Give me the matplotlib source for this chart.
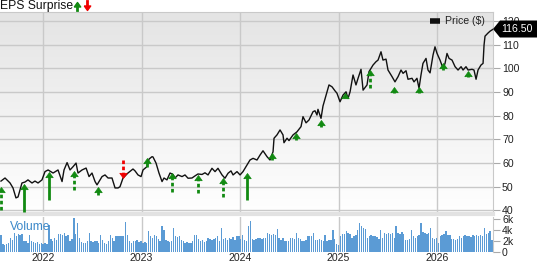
import numpy as np
import matplotlib
matplotlib.use("Agg")
import matplotlib.pyplot as plt
from matplotlib.patches import Polygon
from matplotlib.lines import Line2D

plt.rcParams['font.family'] = ['Liberation Sans', 'DejaVu Sans']

# price series (decimal year, $)
t = [2021.573, 2021.614, 2021.665, 2021.695, 2021.725, 2021.746, 2021.786, 2021.817, 2021.847, 2021.888,
     2021.918, 2021.949, 2021.989, 2022.020, 2022.051, 2022.102, 2022.152, 2022.193, 2022.213, 2022.244,
     2022.274, 2022.305, 2022.335, 2022.355, 2022.396, 2022.437, 2022.467, 2022.497, 2022.528, 2022.548,
     2022.599, 2022.629, 2022.660, 2022.700, 2022.731, 2022.761, 2022.781, 2022.812, 2022.862, 2022.913,
     2022.934, 2022.964, 2022.995, 2023.015, 2023.055, 2023.076, 2023.106, 2023.116, 2023.147, 2023.177,
     2023.208, 2023.228, 2023.258, 2023.289, 2023.319, 2023.340, 2023.370, 2023.411, 2023.441, 2023.472,
     2023.512, 2023.543, 2023.573, 2023.614, 2023.644, 2023.675, 2023.715, 2023.746, 2023.776, 2023.817,
     2023.847, 2023.878, 2023.908, 2023.929, 2023.969, 2024.000, 2024.030, 2024.071, 2024.101, 2024.132,
     2024.172, 2024.203, 2024.233, 2024.274, 2024.304, 2024.335, 2024.345, 2024.375, 2024.406, 2024.436,
     2024.446, 2024.477, 2024.497, 2024.538, 2024.578, 2024.619, 2024.639, 2024.670, 2024.700, 2024.741,
     2024.761, 2024.781, 2024.791, 2024.822, 2024.842, 2024.873, 2024.903, 2024.934, 2024.964, 2024.984,
     2025.015, 2025.045, 2025.076, 2025.096, 2025.117, 2025.147, 2025.177, 2025.198, 2025.228, 2025.249,
     2025.289, 2025.309, 2025.350, 2025.380, 2025.401, 2025.431, 2025.451, 2025.482, 2025.502, 2025.543,
     2025.573, 2025.604, 2025.634, 2025.655, 2025.685, 2025.705, 2025.746, 2025.766, 2025.796, 2025.817,
     2025.837, 2025.857, 2025.888, 2025.908, 2025.929, 2025.959, 2025.979, 2026.000, 2026.030, 2026.061,
     2026.081, 2026.101, 2026.122, 2026.152, 2026.183, 2026.213, 2026.244, 2026.264, 2026.294, 2026.315,
     2026.355, 2026.375, 2026.396, 2026.416, 2026.446, 2026.467, 2026.477, 2026.487, 2026.517, 2026.538,
     2026.568]
price = [52.4, 53.7, 51.6, 49.5, 45.3, 45.7, 51.6, 52.0, 52.9, 51.6,
         52.4, 51.6, 52.9, 56.4, 57.1, 55.8, 57.1, 52.2, 57.1, 60.2,
         57.1, 58.5, 60.0, 55.8, 57.1, 57.9, 54.3, 55.8, 52.2, 50.8,
         54.3, 55.0, 53.7, 53.7, 49.5, 49.5, 50.0, 53.7, 55.8, 57.5,
         56.7, 55.0, 54.3, 57.1, 58.5, 61.7, 62.7, 62.6, 60.0, 55.8,
         52.2, 53.7, 52.9, 55.8, 55.2, 53.7, 55.0, 54.3, 55.0, 53.6,
         53.7, 54.6, 55.4, 55.2, 55.9, 55.0, 57.8, 56.4, 57.8, 55.0,
         53.6, 55.7, 56.7, 55.0, 56.4, 55.0, 56.4, 59.2, 61.3, 62.0,
         61.3, 63.4, 65.2, 62.7, 61.3, 64.8, 70.5, 71.9, 74.0, 71.9,
         68.6, 70.5, 69.5, 71.9, 73.2, 75.4, 79.6, 77.0, 78.2, 81.7,
         82.1, 80.3, 82.7, 78.9, 84.1, 88.7, 93.0, 92.2, 90.5, 89.5,
         85.9, 88.7, 90.1, 87.3, 90.1, 97.2, 93.0, 95.8, 99.6, 90.8,
         93.0, 98.6, 101.4, 102.8, 103.5, 107.0, 103.5, 103.9, 99.3, 96.5,
         94.3, 96.5, 99.3, 97.9, 99.0, 95.4, 95.8, 94.3, 95.8, 91.6,
         97.2, 102.1, 104.2, 99.3, 98.1, 105.6, 109.1, 106.3, 103.5, 100.0,
         102.1, 106.3, 104.2, 103.5, 100.7, 99.3, 100.7, 99.3, 100.7, 99.3,
         99.6, 99.3, 95.4, 99.3, 101.4, 102.1, 109.8, 113.6, 114.9, 115.7,
         116.5]

# EPS surprise arrows: date, price at arrow tip, price at arrow tail
eps_t = [2021.573, 2021.807, 2022.061, 2022.315, 2022.558, 2022.812, 2023.055, 2023.309, 2023.573, 2023.827,
         2024.071, 2024.325, 2024.568, 2024.822, 2025.066, 2025.320, 2025.563, 2025.817, 2026.061, 2026.315]
eps_tip = [49.9, 51.2, 56.4, 56.7, 50.0, 53.6, 62.0, 55.7, 55.0, 53.6,
           55.9, 64.4, 72.6, 78.2, 89.7, 99.3, 92.2, 92.2, 102.4, 99.0]
eps_tail = [40.2, 39.4, 44.4, 48.6, 46.5, 61.3, 58.5, 47.9, 47.4, 45.8,
            44.4, 61.3, 69.7, 75.4, 87.3, 91.6, 89.5, 89.5, 99.3, 96.2]
eps_beat = [1, 1, 1, 1, 1, 0, 1, 1, 1, 1, 1, 1, 1, 1, 1, 1, 1, 1, 1, 1]
eps_dash = [1, 0, 0, 1, 0, 1, 0, 1, 1, 1, 0, 0, 0, 0, 0, 1, 0, 0, 0, 0]

# weekly volume, thousands
volume = [3.1, 1.4, 1.3, 1.5, 1.6, 2.5, 2.2, 3.4, 2.8, 3.3,
          3.1, 3.2, 2.0, 1.9, 1.7, 3.0, 2.0, 1.8, 1.6, 1.8,
          1.5, 1.6, 1.4, 1.7, 1.5, 4.9, 2.3, 2.0, 2.5, 2.2,
          3.2, 3.3, 3.0, 3.4, 2.8, 3.1, 2.0, 2.4, 6.1, 3.3,
          5.2, 2.5, 1.8, 1.6, 1.7, 1.9, 3.4, 1.9, 1.8, 2.0,
          1.9, 1.7, 3.1, 2.2, 1.6, 1.5, 2.0, 3.0, 2.6, 1.9,
          2.8, 2.9, 2.8, 2.9, 2.9, 5.4, 3.1, 2.0, 1.7, 1.9,
          2.0, 2.2, 1.8, 1.9, 1.7, 1.8, 1.7, 3.7, 2.9, 2.6,
          3.0, 2.8, 2.4, 2.0, 4.6, 4.0, 2.2, 1.9, 1.8, 2.0,
          4.3, 2.8, 2.7, 2.9, 2.2, 1.9, 1.6, 1.8, 1.7, 1.6,
          2.0, 3.1, 3.0, 2.3, 2.0, 2.2, 1.8, 2.0, 2.5, 2.3,
          2.1, 2.4, 2.6, 2.8, 2.0, 4.3, 2.3, 2.5, 2.2, 2.6,
          2.4, 2.7, 2.1, 2.9, 2.8, 2.4, 3.0, 2.1, 1.9, 4.6,
          5.5, 2.3, 2.2, 2.4, 2.5, 2.5, 2.4, 2.6, 2.5, 3.4,
          3.2, 3.0, 3.3, 3.1, 4.1, 2.5, 2.2, 2.6, 2.0, 1.9,
          2.0, 2.5, 2.6, 2.4, 3.4, 2.6, 2.4, 2.0, 1.9, 2.1,
          2.9, 2.9, 2.8, 3.4, 2.2, 2.1, 2.3, 2.2, 2.0, 3.0,
          2.0, 2.2, 2.1, 4.0, 2.3, 1.4, 1.3, 2.9, 3.2, 3.3,
          3.7, 3.4, 3.2, 2.6, 2.9, 3.0, 4.0, 5.3, 4.6, 4.4,
          4.2, 2.5, 2.9, 3.0, 2.8, 2.9, 2.7, 2.4, 4.0, 2.5,
          3.4, 3.3, 3.5, 3.2, 3.4, 2.6, 4.7, 3.5, 3.3, 3.6,
          3.2, 2.2, 2.1, 2.3, 4.0, 2.8, 2.6, 2.8, 3.0, 5.2,
          3.6, 3.4, 3.2, 3.5, 4.3, 2.5, 2.4, 2.6, 1.6, 2.9,
          3.1, 3.2, 3.7, 3.0, 3.1, 2.4, 2.3, 2.2, 2.4, 2.9,
          2.6, 2.9, 3.0, 2.8, 2.9, 2.7, 3.0, 2.9, 3.1, 2.8,
          3.0, 2.9, 4.3, 3.2, 3.4, 3.7, 2.2]

years = [2022, 2023, 2024, 2025, 2026]
price_ticks = [40, 50, 60, 70, 80, 90, 100, 110, 120]
vol_ticks = [0, 2, 4, 6]
vol_labels = ['0', '2k', '4k', '6k']
last_price = '116.50'

x0, x1 = 2021.563, 2026.568
W, H = 537, 262
green = '#128a12'
red = '#f00000'
grid_c = '#c9c9c9'
fs = 7.6

fig = plt.figure(figsize=(W / 100, H / 100), dpi=100)
ax = fig.add_axes([0, 1 - 214 / H, 493 / W, 202 / H])
axv = fig.add_axes([0, 1 - 252 / H, 493 / W, 35 / H], sharex=ax)

# gradient background
grad = np.linspace(0, 1, 256).reshape(-1, 1)
ax.imshow(grad, extent=[0, 1, 0, 1], transform=ax.transAxes, aspect='auto',
          cmap=matplotlib.colors.LinearSegmentedColormap.from_list('g', ['#ffffff', '#e4e4e4']),
          origin='lower', zorder=0)

ax.set_xlim(x0, x1)
ax.set_ylim(38.5, 123.8)
for a in (ax, axv):
    for s in ('left', 'bottom'):
        a.spines[s].set_visible(False)
    a.spines['top'].set_color(grid_c)
    a.spines['right'].set_color(grid_c)
    a.set_xticks(years)
    a.grid(True, color=grid_c, lw=1)
    a.set_axisbelow(True)
    a.yaxis.tick_right()
    a.tick_params(axis='y', length=5, color='#aaaaaa', labelsize=fs, pad=1.5, labelcolor='#222222')
ax.spines['bottom'].set_visible(True)
ax.spines['bottom'].set_color('#e2e2e2')
ax.spines['bottom'].set_linewidth(3)
ax.set_yticks(price_ticks)
ax.tick_params(axis='x', length=0, labelbottom=False)

ax.plot(t, price, color='#111111', lw=1.0, zorder=3)

# EPS arrows
up_head = [(-1, -1.4), (0, 0), (1, -1.4), (-1, -1.4)]
down_head = [(-1, 1.4), (0, 0), (1, 1.4), (-1, 1.4)]
for ti, tip, tail, beat, dash in zip(eps_t, eps_tip, eps_tail, eps_beat, eps_dash):
    c = green if beat else red
    end = tip - 1.2 if beat else tip + 1.2
    ls = (0, (1.3, 0.9)) if dash else '-'
    ax.plot([ti, ti], [tail, end], color=c, lw=2.0, ls=ls, solid_capstyle='butt',
            dash_capstyle='butt', zorder=4, clip_on=False)
    ax.plot([ti], [tip], marker=up_head if beat else down_head, ms=7.5, color=c, mec=c,
            mew=0.5, zorder=5, clip_on=False)

# legend
ax.plot([0.872, 0.892], [0.955, 0.955], transform=ax.transAxes, color='#111111', lw=4,
        solid_capstyle='butt', zorder=6)
ax.text(0.902, 0.955, 'Price ($)', transform=ax.transAxes, va='center', ha='left',
        fontsize=fs, color='#222222', zorder=6)

# last price tag
tag = Polygon([(493, H - 29), (500, H - 20.5), (537, H - 20.5), (537, H - 37.5), (500, H - 37.5)],
              closed=True, transform=None, facecolor='#000000', edgecolor='none', zorder=10)
fig.patches.append(tag)
fig.text(517 / W, 1 - 29.5 / H, last_price, color='white', fontsize=fs,
         ha='center', va='center', zorder=11)

# volume
step = (x1 - x0) / len(volume)
vt = x0 + step * (np.arange(len(volume)) + 0.5)
axv.bar(vt, volume, width=step * 0.72, color='#5b9bd5', edgecolor='none', zorder=2)
axv.set_ylim(0, 6.3)
axv.set_yticks(vol_ticks)
axv.set_yticklabels(vol_labels)
axv.yaxis.grid(False)
axv.spines['top'].set_visible(False)
axv.tick_params(axis='x', length=0, labelsize=fs, pad=1, labelcolor='#222222')
axv.text(10 / 493, 0.72, 'Volume', transform=axv.transAxes, color='#3b88c9', fontsize=8.7,
         va='center', ha='left', zorder=6)

# title with arrows
fig.text(0.0, 1 - 6 / H, 'EPS Surprise', fontsize=8.7, va='center', ha='left', color='#111111')
fig.add_artist(Line2D([77 / W, 77 / W], [1 - 9.5 / H, 1 - 4 / H], color=green, lw=2))
fig.add_artist(Line2D([77 / W], [1 - 1.5 / H], marker=up_head, ms=6.5, color=green))
fig.add_artist(Line2D([87 / W, 87 / W], [1 - 1 / H, 1 - 6 / H], color=red, lw=2))
fig.add_artist(Line2D([87 / W], [1 - 9.5 / H], marker=down_head, ms=6.5, color=red))

fig.savefig('out.png', dpi=100)
